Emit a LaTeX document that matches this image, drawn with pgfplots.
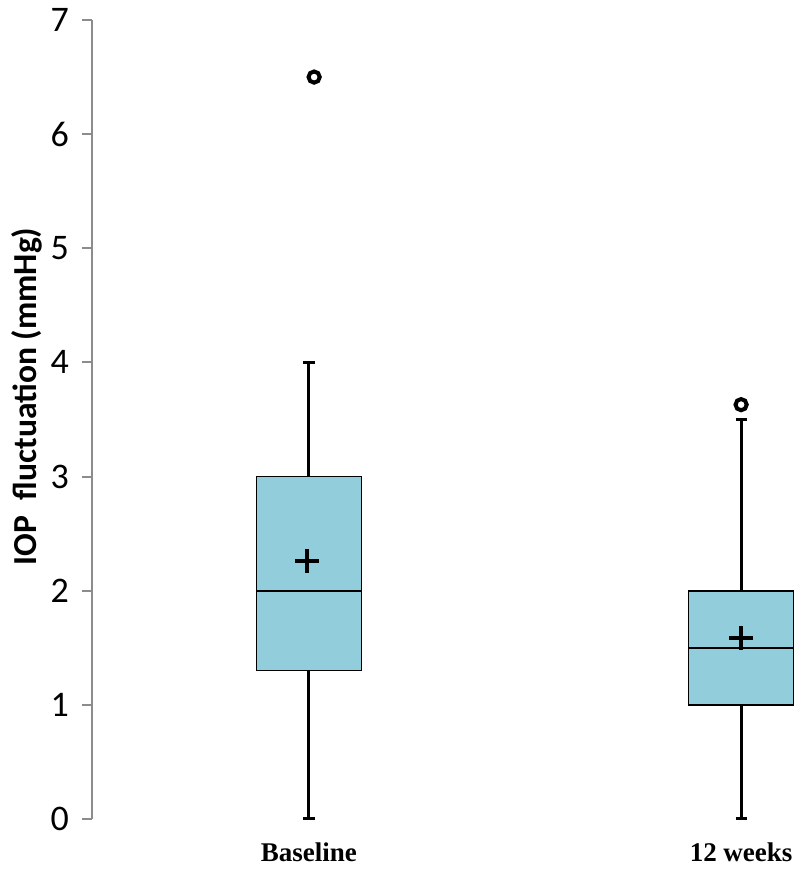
\documentclass[border=0pt]{standalone}
\usepackage{fontspec}
\setmainfont{Liberation Serif}
\newfontfamily\carlito{Carlito}
\usepackage{pgfplots}
\pgfplotsset{compat=1.18}
\usepgfplotslibrary{statistics}
\definecolor{boxblue}{RGB}{146,205,220}
\definecolor{axgray}{RGB}{140,140,140}
\begin{document}
\begin{tikzpicture}[x=1pt,y=1pt]
\useasboundingbox (0,0) rectangle (398,436);
\begin{axis}[
  at={(46pt,26.5pt)}, anchor=south west,
  scale only axis, width=352pt, height=399.5pt,
  xmin=0.498, xmax=2.127, ymin=0, ymax=7,
  clip=false,
  axis y line*=left, axis x line*=bottom,
  x axis line style={draw=none},
  y axis line style={draw=axgray, line width=1pt},
  xtick={1,2}, xticklabels={Baseline,12 weeks},
  xtick style={draw=none},
  ytick={0,1,2,3,4,5,6,7},
  tick align=outside, major tick length=5pt,
  ytick style={draw=axgray, line width=1pt},
  /pgf/number format/assume math mode=true,
  yticklabel style={font=\carlito\fontsize{18}{20}\selectfont, xshift=-3pt},
  xticklabel style={font=\bfseries\fontsize{13.5}{15}\selectfont, anchor=base, yshift=-16pt},
  ylabel={IOP\ \ fluctuation (mmHg)},
  ylabel style={font=\carlito\bfseries\fontsize{16.8}{19}\selectfont, at={(axis description cs:-0.0923,0.529)}, anchor=center},
  boxplot/draw direction=y,
  boxplot/every whisker/.style={line width=1.5pt},
  boxplot/every median/.style={line width=0.8pt},
  boxplot/every box/.style={line width=0.8pt, fill=boxblue},
]
\addplot[black, solid, boxplot prepared={draw position=1, lower whisker=0, lower quartile=1.3, median=2, upper quartile=3, upper whisker=4, box extend=0.243, whisker extend=0.026}] coordinates {};
\addplot[black, solid, boxplot prepared={draw position=2, lower whisker=0, lower quartile=1.0, median=1.5, upper quartile=2.0, upper whisker=3.5, box extend=0.243, whisker extend=0.026}] coordinates {};
\addplot[only marks, mark=+, mark size=6pt, line width=2pt, black] coordinates {(0.995,2.26) (2,1.585)};
\addplot[only marks, mark=o, mark size=2.8pt, line width=2pt, black] coordinates {(1.012,6.5) (2,3.63)};
\end{axis}
\end{tikzpicture}
\end{document}
